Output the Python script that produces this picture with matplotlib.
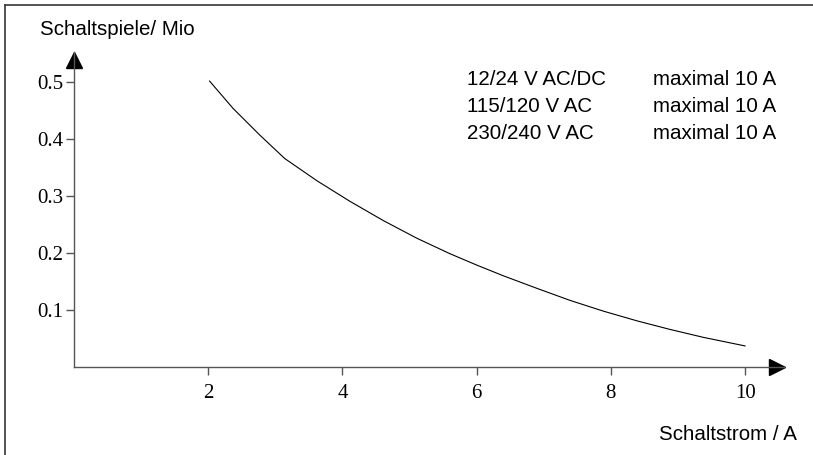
import numpy as np
import matplotlib
matplotlib.use('Agg')
import matplotlib.pyplot as plt
from matplotlib.transforms import offset_copy
from matplotlib.lines import Line2D

# curve
strom = [2.02, 2.37, 2.77, 3.14, 3.62, 4.11, 4.61, 5.11, 5.60, 6.0,
         6.40, 6.90, 7.39, 7.89, 8.39, 8.88, 9.38, 10.0]
spiele = [0.502, 0.454, 0.407, 0.366, 0.327, 0.291, 0.257, 0.226, 0.199, 0.179,
          0.160, 0.138, 0.117, 0.098, 0.081, 0.066, 0.052, 0.037]

xticks = [2, 4, 6, 8, 10]
yticks = [0.1, 0.2, 0.3, 0.4, 0.5]
spannung = ['12/24 V AC/DC', '115/120 V AC', '230/240 V AC']
maxstrom = ['maximal 10 A', 'maximal 10 A', 'maximal 10 A']

W, H = 813, 455
fig = plt.figure(figsize=(W / 100, H / 100), dpi=100)
ax = fig.add_axes([74 / W, (H - 367) / H, (784 - 74) / W, (367 - 52) / H])

axcol = '#555555'
ax.plot(strom, spiele, color='black', lw=0.8)
ax.set_xlim(0, 10.58)
ax.set_ylim(0, 0.553)

for s in ['top', 'right']:
    ax.spines[s].set_visible(False)
for s in ['left', 'bottom']:
    ax.spines[s].set_color(axcol)
    ax.spines[s].set_linewidth(1.0)

ax.set_xticks(xticks)
ax.set_xticklabels([str(t) for t in xticks])
ax.set_yticks(yticks)
ax.set_yticklabels(['%.1f' % t for t in yticks])
ax.tick_params(axis='both', direction='out', length=6, width=1.0, color=axcol,
               labelsize=15)
for lab in ax.get_xticklabels() + ax.get_yticklabels():
    lab.set_family('Liberation Serif')
ax.tick_params(axis='x', pad=6)
ax.tick_params(axis='y', pad=2)

# arrow heads
ms = 11
tx = offset_copy(ax.transAxes, fig=fig, x=-7.5, y=0, units='dots')
ax.plot([1], [0], marker='>', ms=ms, color='black', transform=tx, clip_on=False)
ty = offset_copy(ax.transAxes, fig=fig, x=0, y=-7.5, units='dots')
ax.plot([0], [1], marker='^', ms=ms, color='black', transform=ty, clip_on=False)

sans = 'Liberation Sans'
fs = 14.8
fig.text(40 / W, 1 - 35 / H, 'Schaltspiele/ Mio', family=sans, fontsize=fs,
         ha='left', va='baseline')
fig.text(797 / W, 1 - 440 / H, 'Schaltstrom / A', family=sans, fontsize=fs,
         ha='right', va='baseline')

for i in range(len(spannung)):
    yb = 1 - (85 + 27 * i) / H
    fig.text(467 / W, yb, spannung[i], family=sans, fontsize=fs, va='baseline')
    fig.text(653 / W, yb, maxstrom[i], family=sans, fontsize=fs, va='baseline')

# frame of the picture
fig.add_artist(Line2D([4.5 / W, 4.5 / W], [0, 1 - 5 / H], color='#444444', lw=1.3))
fig.add_artist(Line2D([4.5 / W, 1], [1 - 5 / H, 1 - 5 / H], color='#444444', lw=1.3))

fig.savefig('out.png', dpi=100)
